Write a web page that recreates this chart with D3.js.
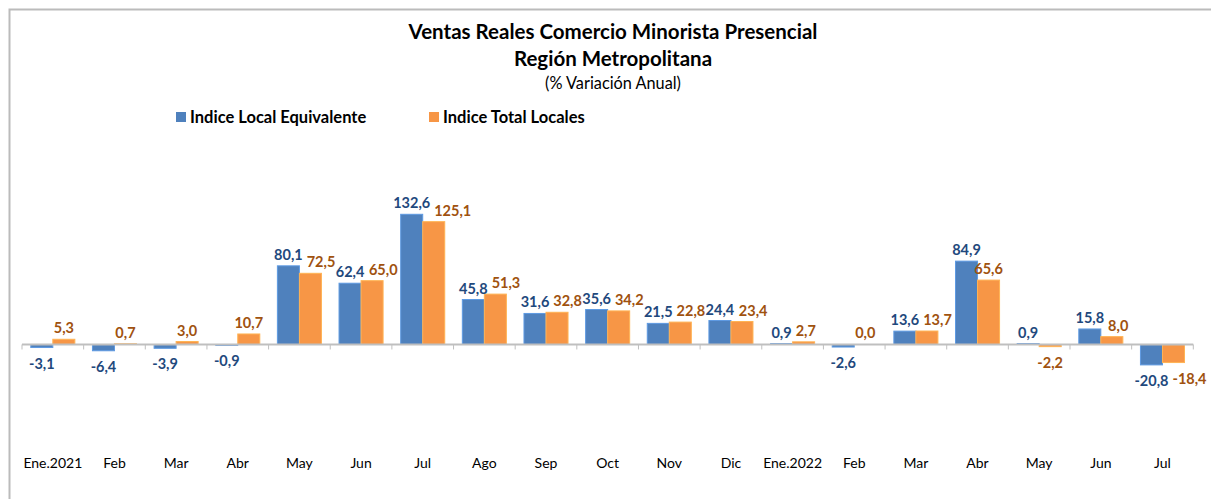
<!DOCTYPE html>
<html lang="es">
<head>
    <meta charset="UTF-8">
    <title>Ventas Reales Comercio Minorista Presencial</title>
    <script src="https://cdn.jsdelivr.net/npm/d3@7"></script>
    <style>
        body { margin: 0; background: #fff; }
        text { font-family: Lato, "Noto Sans", sans-serif; }
        .titulo { font-weight: bold; font-size: 20.5px; fill: #000; }
        .sub { font-size: 16.3px; fill: #000; }
        .leyenda { font-weight: bold; font-size: 16.5px; fill: #000; }
        .mes { font-size: 14px; fill: #000; }
        .valor { font-weight: bold; font-size: 14.5px; }
    </style>
</head>
<body>
<svg width="1211" height="499"></svg>
<script>
    const meses = ["Ene.2021", "Feb", "Mar", "Abr", "May", "Jun", "Jul", "Ago", "Sep", "Oct", "Nov", "Dic",
                   "Ene.2022", "Feb", "Mar", "Abr", "May", "Jun", "Jul"];
    const localEquivalente = [-3.1, -6.4, -3.9, -0.9, 80.1, 62.4, 132.6, 45.8, 31.6, 35.6, 21.5, 24.4,
                              0.9, -2.6, 13.6, 84.9, 0.9, 15.8, -20.8];
    const totalLocales = [5.3, 0.7, 3.0, 10.7, 72.5, 65.0, 125.1, 51.3, 32.8, 34.2, 22.8, 23.4,
                          2.7, 0.0, 13.7, 65.6, -2.2, 8.0, -18.4];
    const series = ["Indice Local Equivalente", "Indice Total Locales"];

    const colorBarra = ["#4F81BD", "#F79646"];
    const colorTexto = ["#1F497D", "#A0520F"];

    const svg = d3.select("svg");

    // marco del gráfico
    svg.append("path")
        .attr("d", "M9.5,1000 V9.5 H1300")
        .attr("fill", "none")
        .attr("stroke", "#BBBBBB")
        .attr("stroke-width", 2);

    const cx = 613;
    svg.append("text").attr("class", "titulo").attr("x", cx).attr("y", 39)
        .attr("text-anchor", "middle").text("Ventas Reales Comercio Minorista Presencial");
    svg.append("text").attr("class", "titulo").attr("x", cx).attr("y", 66)
        .attr("text-anchor", "middle").text("Región Metropolitana");
    svg.append("text").attr("class", "sub").attr("x", cx).attr("y", 89)
        .attr("text-anchor", "middle").text("(% Variación Anual)");

    // leyenda
    const leyX = [176, 429];
    series.forEach((s, i) => {
        svg.append("rect").attr("x", leyX[i]).attr("y", 112).attr("width", 10).attr("height", 10)
            .attr("fill", colorBarra[i]);
        svg.append("text").attr("class", "leyenda").attr("x", leyX[i] + 14).attr("y", 123).text(s);
    });

    const x = d3.scaleBand().domain(d3.range(meses.length)).range([22, 1193.3]).paddingInner(0).paddingOuter(0);
    const inner = d3.scaleBand().domain([0, 1]).range([8.8, x.bandwidth() - 8.8]);
    const y = d3.scaleLinear().domain([-20.8, 132.6]).range([364.9, 214.3]);

    const datos = meses.map((m, i) => [localEquivalente[i], totalLocales[i]]);

    const grupos = svg.append("g").selectAll("g")
        .data(datos)
        .join("g")
        .attr("transform", (d, i) => `translate(${x(i)},0)`);

    grupos.selectAll("rect")
        .data(d => d.map((v, k) => ({ v, k })))
        .join("rect")
        .attr("x", d => inner(d.k))
        .attr("width", inner.bandwidth())
        .attr("y", d => y(Math.max(0, d.v)))
        .attr("height", d => Math.abs(y(d.v) - y(0)))
        .attr("fill", d => colorBarra[d.k])
        .attr("stroke", d => d3.color(colorBarra[d.k]).brighter(0.5))
        .attr("stroke-width", 1);

    // eje x
    const eje = svg.append("g").attr("transform", `translate(0,${y(0)})`);
    eje.append("line").attr("x1", 22).attr("x2", 1193.3).attr("stroke", "#BFBFBF").attr("stroke-width", 2);
    eje.selectAll(".tick")
        .data(d3.range(meses.length + 1))
        .join("line")
        .attr("x1", i => i < meses.length ? x(i) : x.range()[1])
        .attr("x2", i => i < meses.length ? x(i) : x.range()[1])
        .attr("y1", 0).attr("y2", 5)
        .attr("stroke", "#BFBFBF");

    svg.append("g").selectAll("text")
        .data(meses)
        .join("text")
        .attr("class", "mes")
        .attr("x", (d, i) => x(i) + x.bandwidth() / 2)
        .attr("y", 468)
        .attr("text-anchor", "middle")
        .text(d => d);

    // etiquetas de valores
    const fmt = v => v.toFixed(1).replace(".", ",");
    grupos.each(function (d) {
        const g = d3.select(this);
        const labels = d.map((v, k) => g.append("text")
            .attr("class", "valor")
            .attr("fill", colorTexto[k])
            .attr("text-anchor", "middle")
            .attr("x", inner(k) + inner.bandwidth() / 2)
            .attr("y", v >= 0 ? y(v) - 6 : y(v) + 21)
            .text(fmt(v)));
        // evitar que las etiquetas se monten
        const b0 = labels[0].node().getBBox();
        const b1 = labels[1].node().getBBox();
        const vert = b0.y < b1.y + b1.height && b1.y < b0.y + b0.height;
        if (vert && b0.x + b0.width + 4 > b1.x) {
            labels[1].attr("x", +labels[1].attr("x") + (b0.x + b0.width + 4 - b1.x));
        }
    });
</script>
</body>
</html>
